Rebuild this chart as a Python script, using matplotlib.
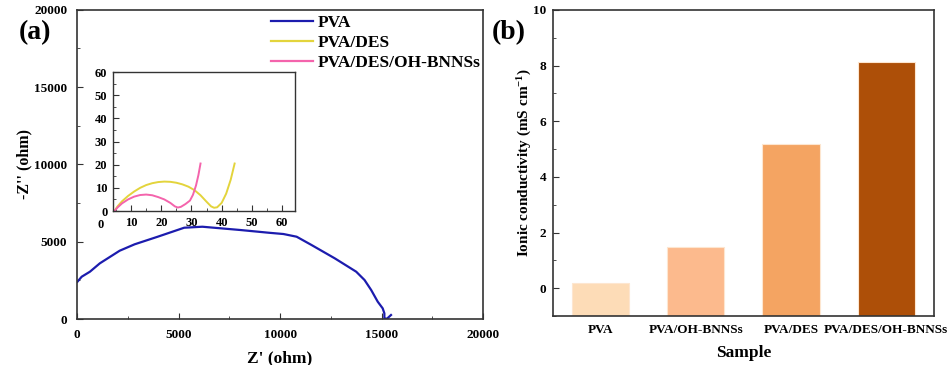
import matplotlib
matplotlib.use("Agg")
import matplotlib.pyplot as plt
from matplotlib.ticker import MultipleLocator

plt.rcParams['font.family'] = ['Liberation Serif', 'DejaVu Serif']
plt.rcParams['font.weight'] = 'bold'
plt.rcParams['axes.labelweight'] = 'bold'
plt.rcParams['mathtext.fontset'] = 'custom'
plt.rcParams['mathtext.rm'] = 'Liberation Serif:bold'
plt.rcParams['mathtext.bf'] = 'Liberation Serif:bold'
plt.rcParams['mathtext.default'] = 'bf'

# --- (a) Nyquist data ---
pva_zre = [20, 230, 635, 1124, 2100, 2835, 3974, 5278, 6173, 8050, 9433, 10166,
           10816, 11550, 12693, 13750, 14160, 14487, 14810, 15054, 15137, 15137,
           15268, 15464]
pva_zim = [2413, 2736, 3060, 3603, 4418, 4832, 5324, 5906, 5970, 5757, 5582, 5498,
           5324, 4787, 3926, 3060, 2523, 1876, 1120, 690, 367, 45, 20, 259]

des_zre = [4.5, 5.5, 7, 9, 11, 13, 15, 17, 19, 21, 23, 25, 27, 29, 31, 33, 35,
           36.5, 37.5, 38.5, 40, 41.5, 43, 44.3]
des_zim = [0, 2, 4.2, 6.5, 8.4, 10, 11.2, 12, 12.5, 12.7, 12.6, 12.2, 11.5, 10.5,
           9, 6.8, 4, 2, 1.4, 1.6, 3.5, 7.5, 13.5, 20.5]

bn_zre = [4.5, 5.5, 7, 9, 11, 13, 15, 17, 19, 21, 23, 24.5, 25.5, 26.5, 28, 29.5,
          30.5, 31.5, 32.3, 33]
bn_zim = [0, 1.5, 3.3, 5, 6.2, 6.9, 7.1, 6.8, 6, 5, 3.5, 2, 1.5, 1.8, 3, 4.5,
          7, 11, 15.5, 20.5]

# --- (b) conductivity ---
samples = ['PVA', 'PVA/OH-BNNSs', 'PVA/DES', 'PVA/DES/OH-BNNSs']
sigma = [0.2, 1.47, 5.17, 8.12]
bar_colors = ['#fddcb7', '#fcba8d', '#f4a462', '#ad4f08']

c_pva = '#1c1cae'
c_des = '#e3d43c'
c_bn = '#f464ac'
spine_c = '#333333'
y_floor = -1

fig = plt.figure(figsize=(9.51, 3.65), dpi=100)


def style(ax, fs=9.5, pad=4):
    for s in ax.spines.values():
        s.set_color(spine_c)
        s.set_linewidth(1.2)
    ax.tick_params(which='both', direction='in', labelsize=fs, color=spine_c, pad=pad)
    ax.tick_params(which='major', length=4)
    ax.tick_params(which='minor', length=2)
    for lab in ax.get_xticklabels() + ax.get_yticklabels():
        lab.set_fontweight('bold')


ax1 = fig.add_axes([0.081, 0.126, 0.427, 0.847])
ax1.plot(pva_zre, pva_zim, color=c_pva, lw=1.6, label='PVA')
ax1.plot([], [], color=c_des, lw=1.6, label='PVA/DES')
ax1.plot([], [], color=c_bn, lw=1.6, label='PVA/DES/OH-BNNSs')
ax1.set_xlim(0, 20000)
ax1.set_ylim(0, 20000)
ax1.xaxis.set_major_locator(MultipleLocator(5000))
ax1.xaxis.set_minor_locator(MultipleLocator(2500))
ax1.yaxis.set_major_locator(MultipleLocator(5000))
ax1.yaxis.set_minor_locator(MultipleLocator(2500))
style(ax1, pad=7)
ax1.set_xlabel("Z' (ohm)", fontsize=12.5, labelpad=7)
ax1.set_ylabel("-Z'' (ohm)", fontsize=11.5, labelpad=1)
ax1.legend(loc='upper left', bbox_to_anchor=(271 / 951, 1 - 15 / 365),
           bbox_transform=fig.transFigure, frameon=False, fontsize=12.5,
           handlelength=2.4, handletextpad=0.3, labelspacing=0.22,
           borderpad=0, borderaxespad=0)
fig.text(19 / 951, 1 - 33 / 365, '(a)', fontsize=20, fontweight='bold', va='center')

ins = fig.add_axes([0.1188, 0.4219, 0.1914, 0.3808])
ins.plot(des_zre, des_zim, color=c_des, lw=1.4)
ins.plot(bn_zre, bn_zim, color=c_bn, lw=1.4)
ins.set_xlim(4, 64.3)
ins.set_ylim(0, 60)
ins.xaxis.set_major_locator(MultipleLocator(10))
ins.xaxis.set_minor_locator(MultipleLocator(5))
ins.yaxis.set_major_locator(MultipleLocator(10))
ins.yaxis.set_minor_locator(MultipleLocator(5))
style(ins, fs=9)
ins.spines[:].set_linewidth(1.0)
ins.text(-0.07, -0.055, '0', transform=ins.transAxes, fontsize=9,
         fontweight='bold', ha='center', va='top')

ax2 = fig.add_axes([0.5815, 0.134, 0.4005, 0.839])
heights = [s - y_floor for s in sigma]
ax2.bar(range(1, 5), heights, bottom=y_floor, width=0.6, color=bar_colors,
        edgecolor='#fde6d0', linewidth=0.8)
ax2.set_xlim(0.5, 4.5)
ax2.set_ylim(y_floor, 10)
ax2.set_xticks(range(1, 5))
ax2.set_xticklabels(samples)
ax2.yaxis.set_major_locator(MultipleLocator(2))
ax2.yaxis.set_minor_locator(MultipleLocator(1))
style(ax2, pad=5)
ax2.tick_params(axis='x', length=0, labelsize=9.5, pad=6)
ax2.set_xlabel('Sample', fontsize=12.5, labelpad=6)
ax2.set_ylabel('Ionic conductivity (mS cm$^{-1}$)', fontsize=11, labelpad=-1)
fig.text(492 / 951, 1 - 33 / 365, '(b)', fontsize=20, fontweight='bold', va='center')

fig.savefig('out.png', dpi=100)
